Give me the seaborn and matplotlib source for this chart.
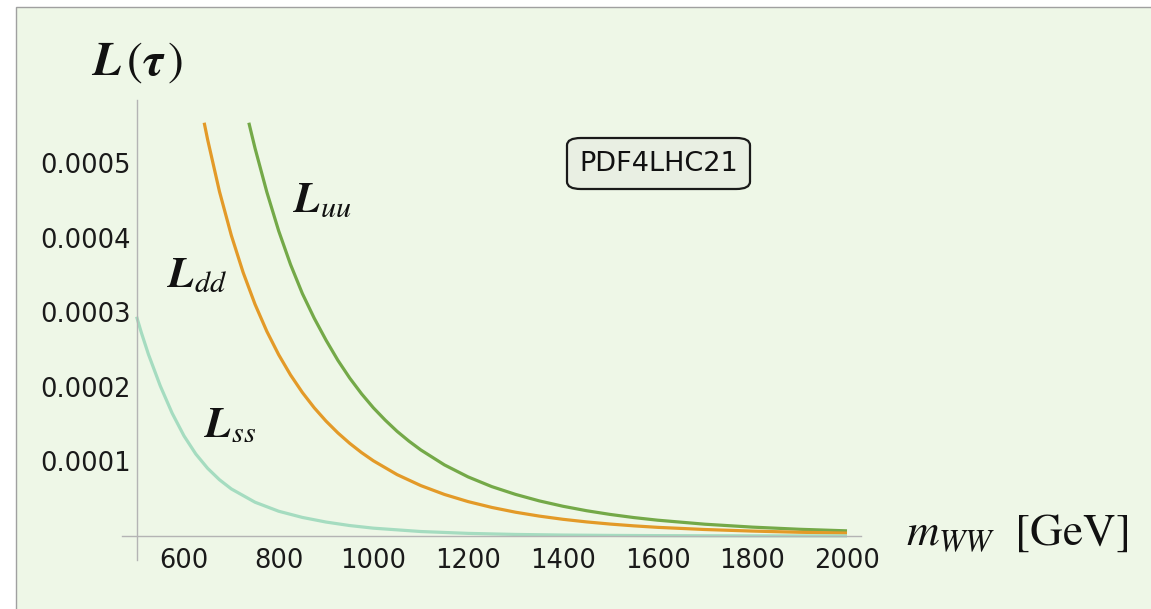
import numpy as np
import pandas as pd
import matplotlib
matplotlib.use("Agg")
import matplotlib.pyplot as plt
from matplotlib.patches import Rectangle, FancyBboxPatch
from matplotlib.ticker import MultipleLocator, FixedLocator
import seaborn as sns

# ---- data (luminosity values in units of 1e-4) ----
m_uu = [737, 750, 775, 800, 825, 850, 875, 900, 925, 950, 975, 1000, 1025, 1050, 1075,
        1100, 1150, 1200, 1250, 1300, 1350, 1400, 1450, 1500, 1550, 1600, 1700, 1800,
        1900, 2000]
L_uu = [5.54, 5.20, 4.61, 4.09, 3.64, 3.25, 2.92, 2.625, 2.355, 2.117, 1.906, 1.718,
        1.553, 1.403, 1.272, 1.154, 0.953, 0.792, 0.662, 0.558, 0.471, 0.399, 0.339,
        0.289, 0.247, 0.212, 0.158, 0.119, 0.090, 0.069]

m_dd = [642.7, 650, 675, 700, 725, 750, 775, 800, 825, 850, 875, 900, 925, 950, 975,
        1000, 1050, 1100, 1150, 1200, 1250, 1300, 1350, 1400, 1450, 1500, 1550, 1600,
        1700, 1800, 1900, 2000]
L_dd = [5.54, 5.313, 4.617, 4.030, 3.532, 3.107, 2.743, 2.430, 2.159, 1.924, 1.719,
        1.540, 1.382, 1.242, 1.118, 1.008, 0.823, 0.676, 0.557, 0.461, 0.383, 0.319,
        0.267, 0.224, 0.189, 0.160, 0.136, 0.116, 0.087, 0.066, 0.050, 0.039]

m_ss = [500, 510, 525, 550, 575, 600, 625, 650, 675, 700, 750, 800, 850, 900, 950, 1000,
        1100, 1200, 1300, 1400, 1500, 1600, 1700, 1800, 1900, 2000]
L_ss = [2.94, 2.727, 2.435, 2.012, 1.647, 1.343, 1.099, 0.907, 0.754, 0.631, 0.453,
        0.332, 0.249, 0.187, 0.140, 0.105, 0.060, 0.035, 0.021, 0.0128, 0.0080, 0.0051,
        0.0033, 0.0022, 0.0015, 0.0010]

x_ticks = [600, 800, 1000, 1200, 1400, 1600, 1800, 2000]
y_ticks = [0.0001, 0.0002, 0.0003, 0.0004, 0.0005]
y_tick_labels = ["0.0001", "0.0002", "0.0003", "0.0004", "0.0005"]

c_uu = "#74a948"
c_dd = "#e39a28"
c_ss = "#a5dcc0"
bg = "#eef7e7"

sns.set_style("white")
plt.rcParams["mathtext.fontset"] = "stix"
plt.rcParams["font.family"] = ["DejaVu Sans"]

W, H = 1151, 609
fig = plt.figure(figsize=(W / 100, H / 100), dpi=100)
fig.patch.set_facecolor("white")
fig.patches.append(Rectangle((16 / W, -0.1), 2, 1 - 7 / H + 0.1, transform=fig.transFigure,
                             facecolor=bg, edgecolor="#a0a0a0", linewidth=1.0, zorder=-10))

xmin, xmax = 470, 2030
ymin, ymax = -0.32e-4, 5.84e-4
px_l = 136.6 + (xmin - 500) * 0.4736
px_r = 136.6 + (xmax - 500) * 0.4736
py_b = 536 - ymin * 1e4 * 74.6
py_t = 536 - ymax * 1e4 * 74.6
ax = fig.add_axes([px_l / W, 1 - py_b / H, (px_r - px_l) / W, (py_b - py_t) / H])
ax.set_facecolor("none")

df = pd.concat([
    pd.DataFrame({"m": m_uu, "L": np.array(L_uu) * 1e-4, "s": "uu"}),
    pd.DataFrame({"m": m_dd, "L": np.array(L_dd) * 1e-4, "s": "dd"}),
    pd.DataFrame({"m": m_ss, "L": np.array(L_ss) * 1e-4, "s": "ss"}),
])
sns.lineplot(data=df, x="m", y="L", hue="s", palette={"uu": c_uu, "dd": c_dd, "ss": c_ss},
             linewidth=2.3, legend=False, ax=ax, sort=False)
for ln in ax.lines:
    ln.set_solid_joinstyle("round")
    ln.set_solid_capstyle("butt")

ax.set_xlim(xmin, xmax)
ax.set_ylim(ymin, ymax)
for s in ["top", "right"]:
    ax.spines[s].set_visible(False)
ax.spines["left"].set_position(("data", 500))
ax.spines["bottom"].set_position(("data", 0))
for s in ["left", "bottom"]:
    ax.spines[s].set_color("#b4b4b4")
    ax.spines[s].set_linewidth(1.0)

ax.xaxis.set_major_locator(FixedLocator(x_ticks))
ax.xaxis.set_minor_locator(MultipleLocator(50))
ax.yaxis.set_major_locator(FixedLocator(y_ticks))
ax.set_yticklabels(y_tick_labels)
ax.yaxis.set_minor_locator(MultipleLocator(0.00002))
ax.tick_params(axis="both", which="major", direction="in", length=6, width=1,
               color="#9a9a9a", labelsize=18.5, labelcolor="#1a1a1a")
ax.tick_params(axis="both", which="minor", direction="in", length=3.5, width=0.8,
               color="#b4b4b4")
ax.tick_params(axis="x", which="major", pad=9)
ax.tick_params(axis="y", which="major", pad=4)
ax.set_xlabel("")
ax.set_ylabel("")

def ftxt(x, y, s, size, **kw):
    fig.text(x / W, 1 - y / H, s, fontsize=size, ha="left", va="baseline", color="#111111", **kw)

ftxt(91, 75, r"$\mathbfit{L}\,(\mathbfit{\tau}\,)$", 34)
ftxt(293, 212, r"$\mathbfit{L}_{uu}$", 31)
ftxt(167, 287, r"$\mathbfit{L}_{dd}$", 31)
ftxt(204, 437, r"$\mathbfit{L}_{ss}$", 31)
ftxt(906, 545, r"$m_{WW}\ \ [\mathrm{GeV}]$", 32.5)

box = FancyBboxPatch((567 / W, 1 - 189 / H), (750 - 567) / W, (189 - 138) / H,
                     boxstyle="round,pad=0,rounding_size=0.012", transform=fig.transFigure,
                     facecolor="#e9efe3", edgecolor="#1a1a1a", linewidth=1.6, zorder=5)
fig.patches.append(box)
fig.text(658.5 / W, 1 - 164 / H, "PDF4LHC21", fontsize=19.5, ha="center", va="center",
         color="#111111", zorder=6)

fig.savefig("out.png", dpi=100, facecolor=fig.get_facecolor())
